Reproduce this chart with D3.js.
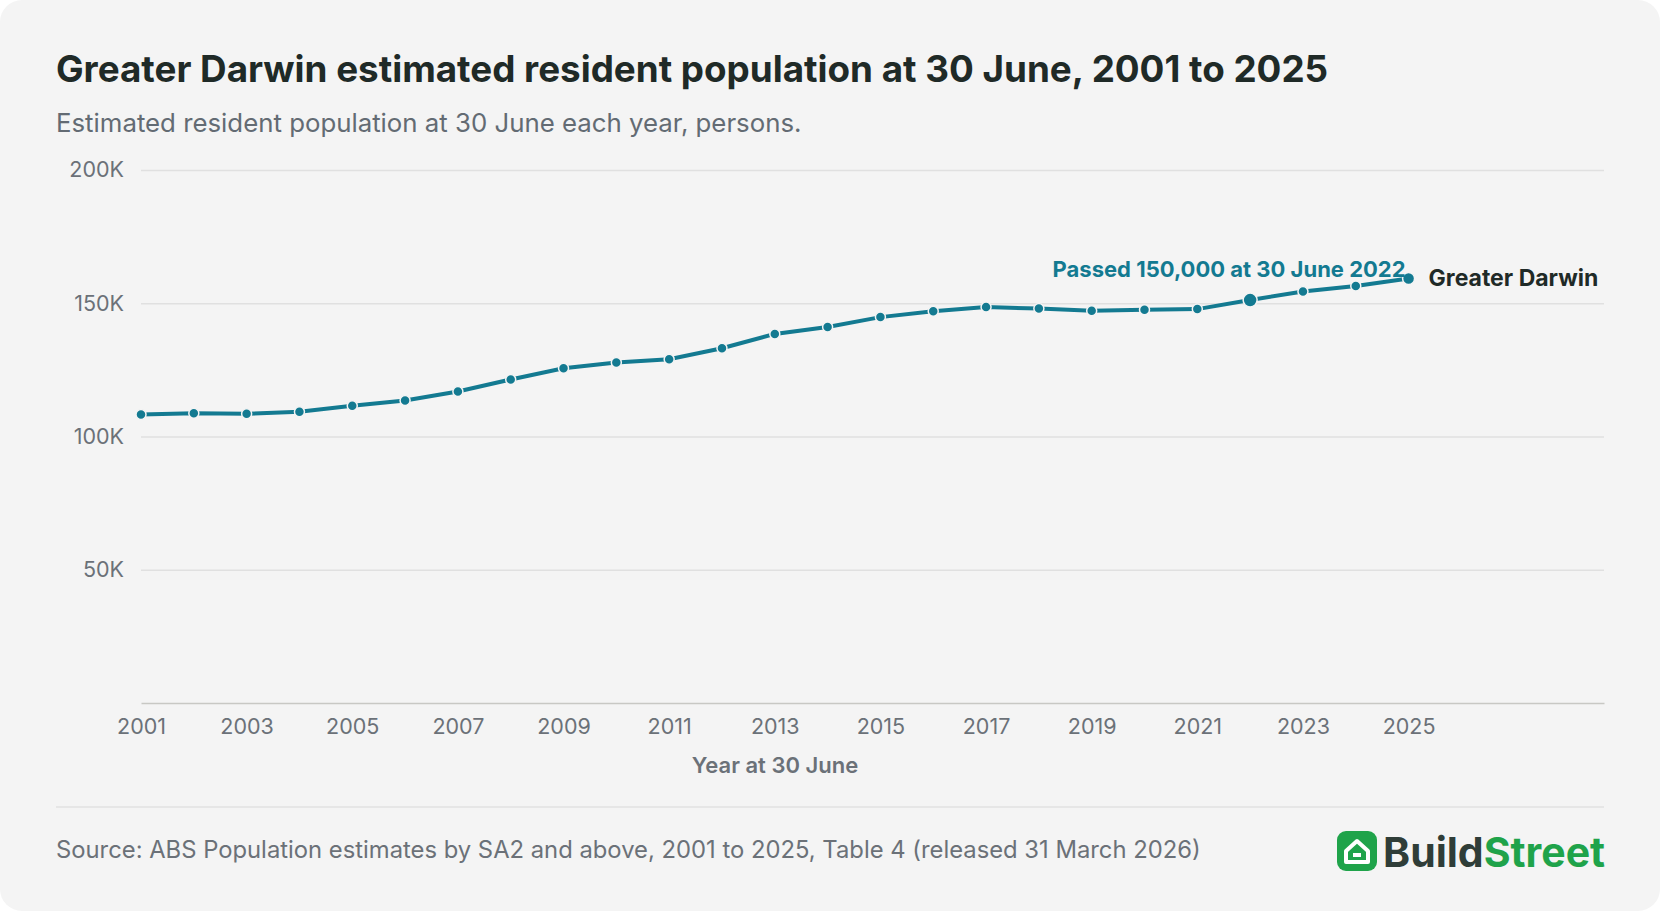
<!DOCTYPE html>
<html><head><meta charset="utf-8">
<script src="https://cdn.jsdelivr.net/npm/d3@7"></script>
<style>body{margin:0;background:#fff;font-family:Inter,"Noto Sans",sans-serif}</style>
</head><body><svg id="c" width="1660" height="911"></svg>
<script>
const years = d3.range(2001, 2026);
const population = [108300,108700,108500,109300,111500,113500,116900,121400,125600,127800,129000,133100,138500,141100,144800,147000,148600,148000,147200,147600,147800,151200,154400,156500,159300];
const yTicks = [50000,100000,150000,200000];
const xTicks = [2001,2003,2005,2007,2009,2011,2013,2015,2017,2019,2021,2023,2025];

const svg = d3.select("#c");
svg.append("rect").attr("x",0).attr("y",0).attr("width",1660).attr("height",911).attr("rx",22).attr("fill","#f4f4f4");

const x = d3.scaleLinear().domain([2001, 2028.7]).range([141, 1604]);
const y = d3.scaleLinear().domain([0, 200000]).range([703, 170]);

svg.append("text").attr("x",56).attr("y",82).attr("font-size",36.8).attr("font-weight",700).attr("fill","#1f2a27").text("Greater Darwin estimated resident population at 30 June, 2001 to 2025");
svg.append("text").attr("x",56).attr("y",132).attr("font-size",25.8).attr("fill","#636b73").text("Estimated resident population at 30 June each year, persons.");

const yAx = svg.append("g").attr("transform","translate(141,0)")
  .call(d3.axisLeft(y).tickValues(yTicks).tickSize(-1463).tickFormat(d=>(d/1000)+"K").tickPadding(17));
yAx.select(".domain").remove();
yAx.selectAll("line").attr("stroke","#e0e0e0").attr("stroke-width",1.5);
yAx.selectAll("text").attr("font-size",21.5).attr("fill","#6b7178").attr("font-family","Inter");

const xAx = svg.append("g").attr("transform","translate(0,703)")
  .call(d3.axisBottom(x).tickValues(xTicks).tickFormat(d3.format("d")).tickSize(0).tickPadding(16));
xAx.select(".domain").attr("stroke","#c8c8c4").attr("stroke-width",1.5);
xAx.selectAll("text").attr("font-size",21.5).attr("fill","#6b7178").attr("font-family","Inter");

svg.append("text").attr("x",775).attr("y",773).attr("text-anchor","middle").attr("font-size",22).attr("font-weight",600).attr("fill","#6b7178").text("Year at 30 June");

const data = years.map((yr,i)=>({yr, v: population[i]}));
const col = "#137a91";
svg.append("path").datum(data).attr("fill","none").attr("stroke",col).attr("stroke-width",4)
  .attr("d", d3.line().x(d=>x(d.yr)).y(d=>y(d.v)));
svg.selectAll("circle.p").data(data).join("circle").attr("class","p")
  .attr("cx",d=>x(d.yr)).attr("cy",d=>y(d.v))
  .attr("r",d=>d.yr===2022?7:(d.yr===2025?6:5)).attr("fill",col)
  .attr("stroke","#f4f4f4").attr("stroke-width",1.5);

const last = data[data.length-1];
svg.append("text").attr("x",x(last.yr)+20).attr("y",y(last.v)+8).attr("font-size",23).attr("font-weight",700).attr("fill","#1f2a27").text("Greater Darwin");
svg.append("text").attr("x",x(2025)-3).attr("y",y(last.v)-1).attr("text-anchor","end").attr("font-size",22).attr("font-weight",700).attr("fill",col).text("Passed 150,000 at 30 June 2022");

svg.append("line").attr("x1",56).attr("x2",1604).attr("y1",807).attr("y2",807).attr("stroke","#e2e2e2").attr("stroke-width",1.5);
svg.append("text").attr("x",56).attr("y",858).attr("font-size",23.8).attr("fill","#6b7178").text("Source: ABS Population estimates by SA2 and above, 2001 to 2025, Table 4 (released 31 March 2026)");

// logo
const lg = svg.append("g").attr("transform","translate(1337,831)");
lg.append("rect").attr("width",40).attr("height",40).attr("rx",9).attr("fill","#1fa34a");
lg.append("path").attr("d","M9 20 L20 10 L31 20 L31 31 L9 31 Z").attr("fill","none").attr("stroke","#fff").attr("stroke-width",4).attr("stroke-linejoin","round");
lg.append("rect").attr("x",16).attr("y",22).attr("width",8).attr("height",4).attr("fill","#fff");
const t = svg.append("text").attr("x",1383).attr("y",867).attr("font-size",41).attr("font-weight",700);
t.append("tspan").attr("fill","#2f3d38").text("Build");
t.append("tspan").attr("fill","#1fa34a").text("Street");
</script></body></html>
